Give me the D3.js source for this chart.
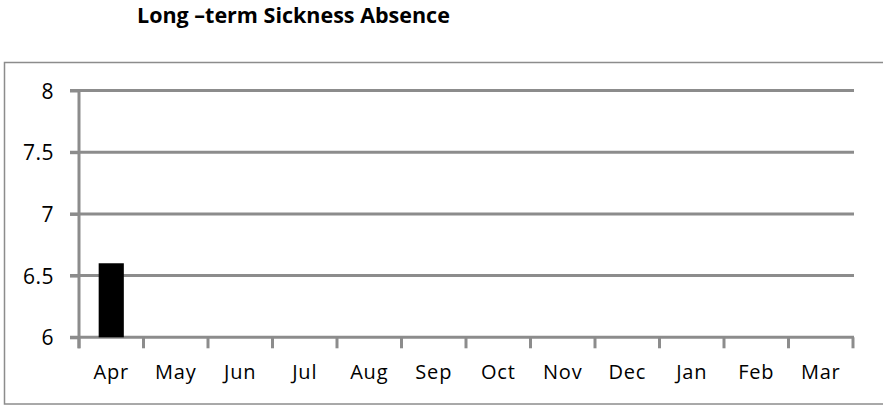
<!DOCTYPE html>
<html>
<head>
<meta charset="utf-8">
<script src="https://cdn.jsdelivr.net/npm/d3@7"></script>
<style>
  body { margin: 0; background: #fff; }
  svg { display: block; font-family: "Open Sans", sans-serif; }
</style>
</head>
<body>
<div id="chart"></div>
<script>
const months = ["Apr", "May", "Jun", "Jul", "Aug", "Sep", "Oct", "Nov", "Dec", "Jan", "Feb", "Mar"];
const absence = [6.6, null, null, null, null, null, null, null, null, null, null, null];
const yTicks = [6, 6.5, 7, 7.5, 8];

const width = 883, height = 407;
const margin = {top: 90.5, right: 30, bottom: 70, left: 79};

const svg = d3.select("#chart").append("svg")
  .attr("width", width)
  .attr("height", height);

// chart frame
svg.append("rect")
  .attr("x", 4.5).attr("y", 62.5)
  .attr("width", 885).attr("height", 341.5)
  .attr("fill", "none")
  .attr("stroke", "#8c8c8c")
  .attr("stroke-width", 1.5);

svg.append("text")
  .attr("x", 137).attr("y", 23)
  .attr("font-weight", "bold")
  .attr("font-size", 21.5)
  .text("Long \u2013term Sickness Absence");

const x = d3.scaleBand()
  .domain(months)
  .range([margin.left, width - margin.right])
  .paddingInner(0.61).paddingOuter(0.305);

const y = d3.scaleLinear()
  .domain([6, 8])
  .range([337.3, margin.top]);

const grey = "#8c8c8c";

// gridlines
svg.append("g")
  .selectAll("line")
  .data(yTicks)
  .join("line")
    .attr("x1", margin.left - 9)
    .attr("x2", width - margin.right + 1)
    .attr("y1", d => y(d))
    .attr("y2", d => y(d))
    .attr("stroke", grey)
    .attr("stroke-width", 3);

// y axis
const yAxis = svg.append("g")
  .attr("transform", `translate(${margin.left},0)`)
  .call(d3.axisLeft(y).tickValues(yTicks).tickSize(9).tickPadding(16).tickFormat(d3.format("")));
yAxis.select(".domain").attr("stroke", grey).attr("stroke-width", 3).attr("d", `M0,${y(8) - 1.5}V${y(6) + 11}`);
yAxis.selectAll(".tick line").attr("stroke", grey).attr("stroke-width", 3);
yAxis.selectAll(".tick text")
  .attr("font-size", 21).attr("font-family", "Open Sans").attr("fill", "#000")
  .attr("letter-spacing", 0.5).attr("dy", "0.36em");

// x axis with ticks between categories
const xAxis = svg.append("g")
  .attr("transform", `translate(0,${y(6)})`);
const bounds = months.map(m => x(m) - x.step() * x.paddingInner() / 2).concat([width - margin.right]);
xAxis.selectAll("line.tk")
  .data(bounds)
  .join("line")
    .attr("class", "tk")
    .attr("x1", d => d).attr("x2", d => d)
    .attr("y1", 0).attr("y2", 11)
    .attr("stroke", grey).attr("stroke-width", 3);
xAxis.selectAll("text")
  .data(months)
  .join("text")
    .attr("x", d => x(d) + x.bandwidth() / 2)
    .attr("y", 42)
    .attr("text-anchor", "middle")
    .attr("font-size", 20)
    .attr("letter-spacing", 0.8)
    .text(d => d);

// bars
svg.append("g")
  .selectAll("rect")
  .data(months.map((m, i) => ({m, v: absence[i]})).filter(d => d.v != null))
  .join("rect")
    .attr("x", d => x(d.m))
    .attr("width", x.bandwidth())
    .attr("y", d => y(d.v))
    .attr("height", d => y(6) - y(d.v))
    .attr("fill", "#000");
</script>
</body>
</html>
